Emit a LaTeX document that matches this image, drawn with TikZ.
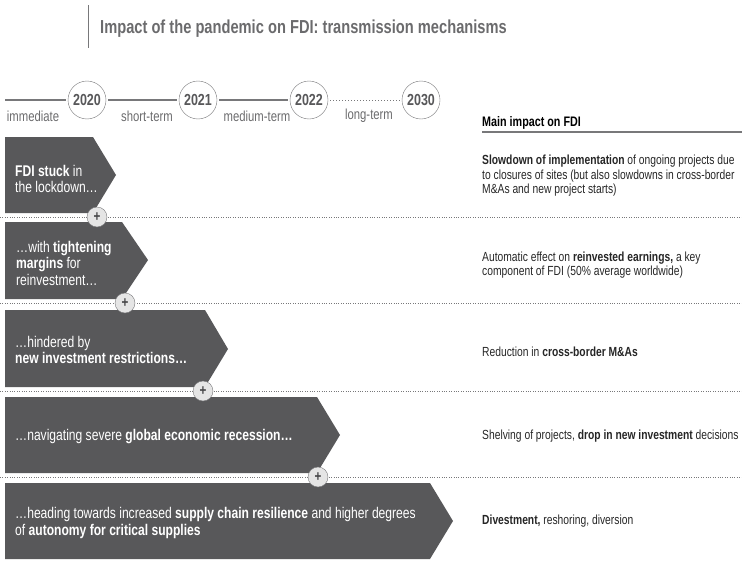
\documentclass[tikz,border=0pt]{standalone}
\usepackage{fontspec}
\setmainfont{Liberation Sans}[FakeStretch=0.78]
\usetikzlibrary{positioning}

\definecolor{arrowgray}{HTML}{58585A}
\definecolor{titlegray}{HTML}{6B6B6D}
\definecolor{linegray}{HTML}{78787A}

\begin{document}
\begin{tikzpicture}
        [x=1pt, y=-1pt,
        year/.style={circle, draw=linegray, fill=white, minimum size=38pt, inner sep=0pt,
          font=\fontsize{16}{17}\selectfont\bfseries, text=arrowgray},
        span/.style={font=\fontsize{14.5}{16}\selectfont, text=titlegray, inner sep=0pt},
        tline/.style={linegray, line width=1.8pt, shorten <=2pt, shorten >=2pt},
        sep/.style={linegray, dotted, thin},
        plus/.style={circle, draw=linegray, fill=gray!20, minimum size=20pt, inner sep=0pt,
          font=\fontsize{15}{15}\selectfont\bfseries, text=arrowgray!80!black},
        arrowtext/.style={anchor=west, align=left, text=white, inner sep=0pt,
          font=\fontsize{15.5}{16.5}\selectfont},
        impact/.style={anchor=west, align=left, text=black!85, inner sep=0pt,
          font=\fontsize{13.2}{14.5}\selectfont}]

        \useasboundingbox (0,0) rectangle (742,570);

        % title
        \draw[linegray, thin] (88,5) -- (88,48);
        \node[anchor=base west, inner sep=0pt, text=titlegray, font=\fontsize{18.8}{20}\selectfont\bfseries]
          (title) at (100,34) {Impact of the pandemic on FDI: transmission mechanisms};

        % time line
        \coordinate (start) at (5,100);
        \node[year] (y20) at (87,100) {2020};
        \node[year] (y21) at (198,100) {2021};
        \node[year] (y22) at (309,100) {2022};
        \node[year] (y30) at (421,100) {2030};
        \draw[tline, shorten <=0pt] (start) -- (y20);
        \draw[tline] (y20) -- (y21);
        \draw[tline] (y21) -- (y22);
        \draw[tline, line width=1pt, dotted] (y22) -- (y30);
        \node[span] (imm) at (33,116) {immediate};
        \node[span] (short) at (147,116) {short-term};
        \node[span] (medium) at (257,116) {medium-term};
        \node[span] (long) at (369,116) {long-term};

        % column head
        \node[anchor=west, inner sep=0pt, font=\fontsize{13.8}{15}\selectfont\bfseries]
          (head) at (482,123) {Main impact on FDI};
        \draw[linegray, line width=1.8pt] (482,132) -- (742,132);

        % arrows
        \fill[arrowgray] (5,137) -- (93,137) -- (116,175) -- (93,213) -- (5,213) -- cycle;
        \fill[arrowgray] (5,222) -- (122,222) -- (148,260) -- (122,299) -- (5,299) -- cycle;
        \fill[arrowgray] (5,310) -- (205,310) -- (228,349) -- (205,387) -- (5,387) -- cycle;
        \fill[arrowgray] (5,397) -- (317,397) -- (340,435) -- (317,473) -- (5,473) -- cycle;
        \fill[arrowgray] (5,483) -- (430,483) -- (453,521) -- (430,559) -- (5,559) -- cycle;

        \node[arrowtext] (a1) at (15,179) {\textbf{FDI stuck} in\\the lockdown\dots};
        \node[arrowtext] (a2) at (16,263) {\dots with \textbf{tightening}\\\textbf{margins} for\\reinvestment\dots};
        \node[arrowtext] (a3) at (15,350) {\dots hindered by\\\textbf{new investment restrictions\dots}};
        \node[arrowtext] (a4) at (15,437) {\dots navigating severe \textbf{global economic recession\dots}};
        \node[arrowtext] (a5) at (15,523) {\dots heading towards increased \textbf{supply chain resilience} and higher degrees\\of \textbf{autonomy for critical supplies}};

        % separators
        \draw[sep] (0,217) -- (742,217);
        \draw[sep] (0,303) -- (742,303);
        \draw[sep] (0,391) -- (742,391);
        \draw[sep] (0,477) -- (742,477);
        \node[plus] (p1) at (97,217) {+};
        \node[plus] (p2) at (125,303) {+};
        \node[plus] (p3) at (203,391) {+};
        \node[plus] (p4) at (318,477) {+};

        % main impact
        \node[impact] (i1) at (482,176) {\textbf{Slowdown of implementation} of ongoing projects due\\to closures of sites (but also slowdowns in cross-border\\M\&As and new project starts)};
        \node[impact] (i2) at (482,265) {Automatic effect on \textbf{reinvested earnings,} a key\\component of FDI (50\% average worldwide)};
        \node[impact] (i3) at (482,352) {Reduction in \textbf{cross-border M\&As}};
        \node[impact] (i4) at (482,436) {Shelving of projects, \textbf{drop in new investment} decisions};
        \node[impact] (i5) at (482,521) {\textbf{Divestment,} reshoring, diversion};

\end{tikzpicture}
\end{document}
